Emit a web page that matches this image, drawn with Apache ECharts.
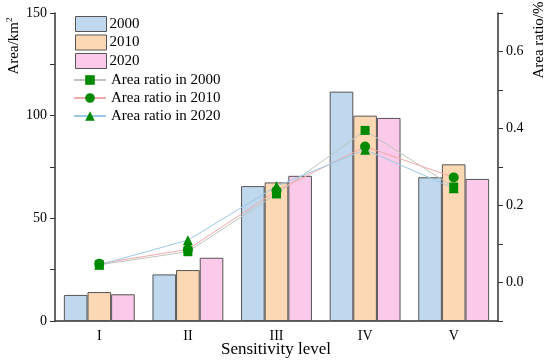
<!DOCTYPE html>
<html><head><meta charset="utf-8">
<script src="https://cdn.jsdelivr.net/npm/echarts@6/dist/echarts.min.js"></script>
<style>html,body{margin:0;padding:0;background:#fff}#c{width:550px;height:363px}</style>
</head><body><div id="c"></div>
<script>
const categories = ['I','II','III','IV','V'];
const area2000 = [12.7, 22.7, 65.7, 111.7, 70.0];
const area2010 = [14.1, 24.8, 67.5, 100.0, 76.3];
const area2020 = [13.0, 30.8, 70.7, 98.9, 69.2];
const ratio2000 = [0.046, 0.080, 0.230, 0.395, 0.248];
const ratio2010 = [0.049, 0.086, 0.238, 0.353, 0.273];
const ratio2020 = [0.046, 0.110, 0.250, 0.345, 0.245];
const leftTicks = [0, 50, 100, 150];
const rightTicks = [0.0, 0.2, 0.4, 0.6];

const font = '"Liberation Serif", "Times New Roman", serif';
const axisCol = '#333';
const chart = echarts.init(document.getElementById('c'));
const barStyle = c => ({color: c, borderColor: '#555', borderWidth: 1});
chart.setOption({
  animation: false,
  textStyle: {fontFamily: font},
  grid: {left: 55, right: 52, top: 13, bottom: 42, outerBoundsMode: 'none', containLabel: false},
  legend: [{
    orient: 'vertical', left: 75, top: 16, itemWidth: 31, itemHeight: 15, itemGap: 2.5, icon: 'rect',
    padding: 0,
    itemStyle: {borderColor: '#555', borderWidth: 1},
    textStyle: {fontFamily: font, fontSize: 15, color: '#000', lineHeight: 15, padding: [0,0,0,-2]},
    data: ['2000','2010','2020']
  },{
    orient: 'vertical', left: 73, top: 72.5, itemWidth: 32, itemHeight: 12, itemGap: 3,
    padding: 0,
    textStyle: {fontFamily: font, fontSize: 15, color: '#000', lineHeight: 15},
    data: ['Area ratio in 2000','Area ratio in 2010','Area ratio in 2020']
  }],
  xAxis: [{
    type: 'category', data: categories,
    axisLine: {lineStyle: {color: axisCol, width: 1.5}},
    axisTick: {alignWithLabel: true, length: 5, lineStyle: {color: axisCol}},
    axisLabel: {fontFamily: font, fontSize: 14, color: '#000', margin: 8}
  },{
    type: 'category', data: categories, position: 'bottom',
    axisLine: {show: false}, axisLabel: {show: false},
    axisTick: {inside: true, length: 3, lineStyle: {color: axisCol}}
  }],
  yAxis: [{
    type: 'value', min: 0, max: 150, interval: 25,
    axisLine: {show: true, lineStyle: {color: axisCol, width: 1.5}},
    axisTick: {show: true, length: 5, lineStyle: {color: axisCol}},
    splitLine: {show: false},
    axisLabel: {fontFamily: font, fontSize: 14, color: '#000', margin: 8,
      formatter: v => leftTicks.includes(v) ? String(v) : ''}
  },{
    type: 'value', min: -0.1, max: 0.7, interval: 0.1, position: 'right',
    axisLine: {show: true, lineStyle: {color: axisCol, width: 1.5}},
    axisTick: {show: true, length: 5, lineStyle: {color: axisCol}},
    splitLine: {show: false},
    axisLabel: {fontFamily: font, fontSize: 14, color: '#000', margin: 8,
      formatter: v => rightTicks.some(t => Math.abs(t - v) < 1e-6) ? v.toFixed(1) : ''}
  }],
  graphic: [{
    type: 'text', x: 14, y: 46, rotation: Math.PI/2,
    style: {text: '{a|Area/km}{s|2}', align: 'center', verticalAlign: 'middle',
      rich: {a: {fontFamily: font, fontSize: 15, fill: '#000'}, s: {fontFamily: font, fontSize: 9, fill: '#000', verticalAlign: 'top', padding: [0,0,8,0]}}}
  },{
    type: 'text', x: 539, y: 40, rotation: Math.PI/2,
    style: {text: 'Area ratio/%', align: 'center', verticalAlign: 'middle',
      font: '15px ' + font, fill: '#000'}
  },{
    type: 'text', x: 276, y: 350,
    style: {text: 'Sensitivity level', align: 'center', verticalAlign: 'middle',
      font: '17px ' + font, fill: '#000'}
  }],
  series: [
    {name: '2000', type: 'bar', data: area2000, barGap: '0%', barCategoryGap: '20%', itemStyle: barStyle('#bfd8ee')},
    {name: '2010', type: 'bar', data: area2010, itemStyle: barStyle('#fdd8b4')},
    {name: '2020', type: 'bar', data: area2020, itemStyle: barStyle('#fbc9e9')},
    {name: 'Area ratio in 2000', type: 'line', yAxisIndex: 1, data: ratio2000, symbol: 'rect', symbolSize: 9,
      lineStyle: {color: '#bcc6bc', width: 1}, itemStyle: {color: '#008a00'}, z: 5},
    {name: 'Area ratio in 2010', type: 'line', yAxisIndex: 1, data: ratio2010, symbol: 'circle', symbolSize: 10,
      lineStyle: {color: '#f2a9a9', width: 1}, itemStyle: {color: '#008a00'}, z: 5},
    {name: 'Area ratio in 2020', type: 'line', yAxisIndex: 1, data: ratio2020, symbol: 'triangle', symbolSize: 10,
      lineStyle: {color: '#9cc9e6', width: 1}, itemStyle: {color: '#008a00'}, z: 5}
  ]
});
</script></body></html>
